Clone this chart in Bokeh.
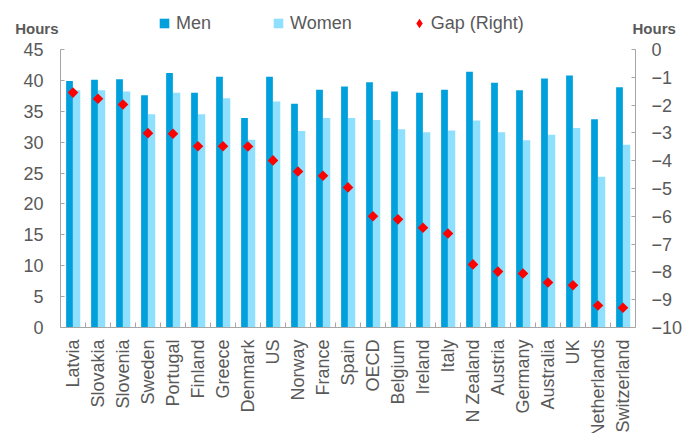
import math
from bokeh.plotting import figure
from bokeh.layouts import column
from bokeh.models import (Range1d, LinearAxis, FixedTicker, Legend, LegendItem,
                          ColumnDataSource)
from bokeh.transform import dodge
from bokeh.embed import file_html
from bokeh.resources import INLINE

categories = ["Latvia", "Slovakia", "Slovenia", "Sweden", "Portugal", "Finland",
              "Greece", "Denmark", "US", "Norway", "France", "Spain", "OECD",
              "Belgium", "Ireland", "Italy", "N Zealand", "Austria", "Germany",
              "Australia", "UK", "Netherlands", "Switzerland"]
men = [39.9, 40.1, 40.2, 37.6, 41.2, 38.0, 40.6, 33.9, 40.6, 36.2, 38.5, 39.0,
       39.7, 38.2, 38.0, 38.5, 41.4, 39.6, 38.4, 40.3, 40.8, 33.7, 38.9]
women = [38.4, 38.4, 38.2, 34.5, 38.0, 34.5, 37.1, 30.4, 36.6, 31.8, 33.9, 33.9,
         33.6, 32.1, 31.6, 31.9, 33.5, 31.6, 30.3, 31.2, 32.3, 24.4, 29.6]
gap = [-1.55, -1.77, -1.98, -3.01, -3.03, -3.48, -3.48, -3.49, -3.99, -4.39,
       -4.54, -4.96, -6.0, -6.11, -6.41, -6.62, -7.73, -7.99, -8.06, -8.38,
       -8.48, -9.21, -9.29]
left_ticks = [0, 5, 10, 15, 20, 25, 30, 35, 40, 45]
right_ticks = [0, -1, -2, -3, -4, -5, -6, -7, -8, -9, -10]
series_labels = ["Men", "Women", "Gap (Right)"]
unit_label = "Hours"

MEN_C = "#00A0DC"
WOMEN_C = "#8FE0FF"
GAP_C = "#FF0000"
TXT = "#595959"
AX = "#A6A6A6"
FONT = "Liberation Sans"

BL, BR, FW = 60, 50, 575      # shared left/right borders and frame width
HH = 40                       # header height
UNIT_Y = 28                   # header row (px from top) of the unit labels

n = len(categories)
xs = list(range(n))
src = ColumnDataSource(dict(x=xs, men=men, women=women, gap=gap))

# ---------------- header: legend + unit labels ----------------
hdr = figure(width=BL + FW + BR, height=HH, output_backend="svg",
             toolbar_location=None, x_range=Range1d(0, FW),
             y_range=Range1d(HH, 0), x_axis_location=None,
             y_axis_location="left", min_border_left=BL, min_border_right=BR,
             min_border_top=0, min_border_bottom=0)
hdr.outline_line_color = None
hdr.grid.visible = False

# zero-size key renderers: the legend draws its own swatches
k_men = hdr.scatter(x="x", y="men", source=src, marker="square", size=0,
                    fill_color=MEN_C, line_color=None)
k_women = hdr.scatter(x="x", y="women", source=src, marker="square", size=0,
                      fill_color=WOMEN_C, line_color=None)
k_gap = hdr.scatter(x="x", y="gap", source=src, marker="diamond", size=0,
                    fill_color=GAP_C, line_color=None)

leg = Legend(items=[LegendItem(label=series_labels[0], renderers=[k_men]),
                    LegendItem(label=series_labels[1], renderers=[k_women]),
                    LegendItem(label=series_labels[2], renderers=[k_gap])],
             orientation="horizontal", location=(92, 5),
             glyph_width=24, glyph_height=24, label_standoff=-3, spacing=55,
             padding=0, margin=0, border_line_color=None,
             background_fill_alpha=0, label_height=22,
             label_text_font_size="18px", label_text_color=TXT,
             label_text_font=FONT)
hdr.add_layout(leg)

hl = hdr.yaxis[0]
hr = LinearAxis()
hdr.add_layout(hr, "right")
for ax, so in ((hl, 2), (hr, -3)):
    ax.ticker = FixedTicker(ticks=[UNIT_Y])
    ax.major_label_overrides = {UNIT_Y: unit_label}
    ax.axis_line_color = None
    ax.major_tick_line_color = None
    ax.minor_tick_line_color = None
    ax.major_tick_in = 0
    ax.major_tick_out = 0
    ax.minor_tick_in = 0
    ax.minor_tick_out = 0
    ax.major_label_standoff = so
    ax.major_label_text_font = FONT
    ax.major_label_text_font_size = "15px"
    ax.major_label_text_font_style = "bold"
    ax.major_label_text_color = TXT

# ---------------- main chart ----------------
p = figure(frame_width=FW, frame_height=278, output_backend="svg",
           toolbar_location=None,
           x_range=Range1d(-0.5, n - 0.5), y_range=Range1d(0, 45),
           min_border_left=BL, min_border_right=BR, min_border_top=9,
           min_border_bottom=104)
p.outline_line_color = None
p.xgrid.visible = False
p.ygrid.visible = False

p.extra_y_ranges = {"gap": Range1d(-10, 0)}
raxis = LinearAxis(y_range_name="gap", ticker=FixedTicker(ticks=right_ticks))
p.add_layout(raxis, "right")

p.vbar(x=dodge("x", -0.14), top="men", width=0.27, source=src,
       fill_color=MEN_C, line_color=None)
p.vbar(x=dodge("x", 0.145), top="women", width=0.29, source=src,
       fill_color=WOMEN_C, line_color=None)
p.scatter(x="x", y="gap", source=src, y_range_name="gap", marker="square",
          angle=math.pi / 4, size=7.5, fill_color=GAP_C, line_color=None)

xa = p.xaxis[0]
xa.ticker = FixedTicker(ticks=xs, minor_ticks=[i + 0.5 for i in range(n - 1)])
xa.major_label_overrides = {i: c for i, c in enumerate(categories)}
xa.major_label_orientation = math.pi / 2
xa.major_tick_in = 0
xa.major_tick_out = 0
xa.minor_tick_in = 5
xa.minor_tick_out = 0
xa.major_label_standoff = 12

ya = p.yaxis[0]
ya.ticker = FixedTicker(ticks=left_ticks)
ya.major_tick_in = 4
ya.major_tick_out = 0
ya.minor_tick_in = 0
ya.minor_tick_out = 0
ya.major_label_standoff = 17

raxis.major_tick_in = 4
raxis.major_tick_out = 0
raxis.minor_tick_in = 0
raxis.minor_tick_out = 0
raxis.major_label_standoff = 16

for ax in (xa, ya, raxis):
    ax.axis_line_color = AX
    ax.major_tick_line_color = AX
    ax.minor_tick_line_color = AX
    ax.major_label_text_color = TXT
    ax.major_label_text_font = FONT
    ax.major_label_text_font_size = "18px"

layout = column(hdr, p, spacing=0)
open("out.html", "w").write(file_html(layout, INLINE))
